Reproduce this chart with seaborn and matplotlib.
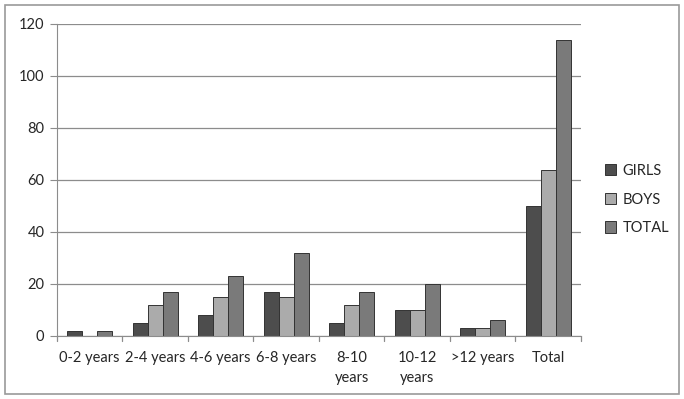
import matplotlib
matplotlib.use("Agg")
import matplotlib.pyplot as plt
import matplotlib.patches as mpatches
import pandas as pd
import seaborn as sns

categories = ["0-2 years", "2-4 years", "4-6 years", "6-8 years",
              "8-10\nyears", "10-12\nyears", ">12 years", "Total"]
girls = [2, 5, 8, 17, 5, 10, 3, 50]
boys = [0, 12, 15, 15, 12, 10, 3, 64]
total = [2, 17, 23, 32, 17, 20, 6, 114]
series = ["GIRLS", "BOYS", "TOTAL"]
colors = ["#4d4d4d", "#ababab", "#7a7a7a"]

df = pd.DataFrame({
    "cat": categories * 3,
    "series": [s for s in series for _ in categories],
    "value": girls + boys + total,
})

sns.set_style("white")
plt.rcParams["font.family"] = ["Lato", "DejaVu Sans"]

fig = plt.figure(figsize=(6.84, 3.99), dpi=100)
ax = fig.add_axes([0.0833, 0.158, 0.766, 0.782])

sns.barplot(data=df, x="cat", y="value", hue="series", order=categories,
            hue_order=series, palette=colors, width=0.69, saturation=1,
            edgecolor="#333333", linewidth=0.7, ax=ax, legend=False)

ax.set_ylim(0, 120)
ax.set_yticks(range(0, 121, 20))
ax.set_xlim(-0.5, len(categories) - 0.5)
ax.yaxis.grid(True, color="#8c8c8c", linewidth=0.9)
ax.set_axisbelow(True)
ax.set_xlabel("")
ax.set_ylabel("")
for side in ["top", "right"]:
    ax.spines[side].set_visible(False)
for side in ["left", "bottom"]:
    ax.spines[side].set_color("#8c8c8c")
ax.tick_params(axis="y", labelsize=10.5, length=5, color="#8c8c8c", left=True, pad=4)
ax.tick_params(axis="x", labelsize=10.5, length=0, pad=11)
for lbl in ax.get_xticklabels():
    lbl.set_linespacing(1.5)
# category separators on x axis
for i in range(len(categories) + 1):
    ax.plot([i - 0.5, i - 0.5], [0, -2], color="#8c8c8c", lw=0.9, clip_on=False)

handles = [mpatches.Patch(facecolor=c, edgecolor="#333333", linewidth=0.7, label=s)
           for s, c in zip(series, colors)]
fig.legend(handles=handles, loc="center left", bbox_to_anchor=(0.865, 0.5),
           frameon=False, fontsize=10.5, handlelength=0.8, handleheight=0.8,
           handletextpad=0.4, labelspacing=1.0)

fig.patches.append(mpatches.Rectangle((0.007, 0.012), 0.986, 0.976,
                                      transform=fig.transFigure, fill=False,
                                      edgecolor="#9a9a9a", linewidth=1.2))

fig.savefig("out.png", dpi=100)
